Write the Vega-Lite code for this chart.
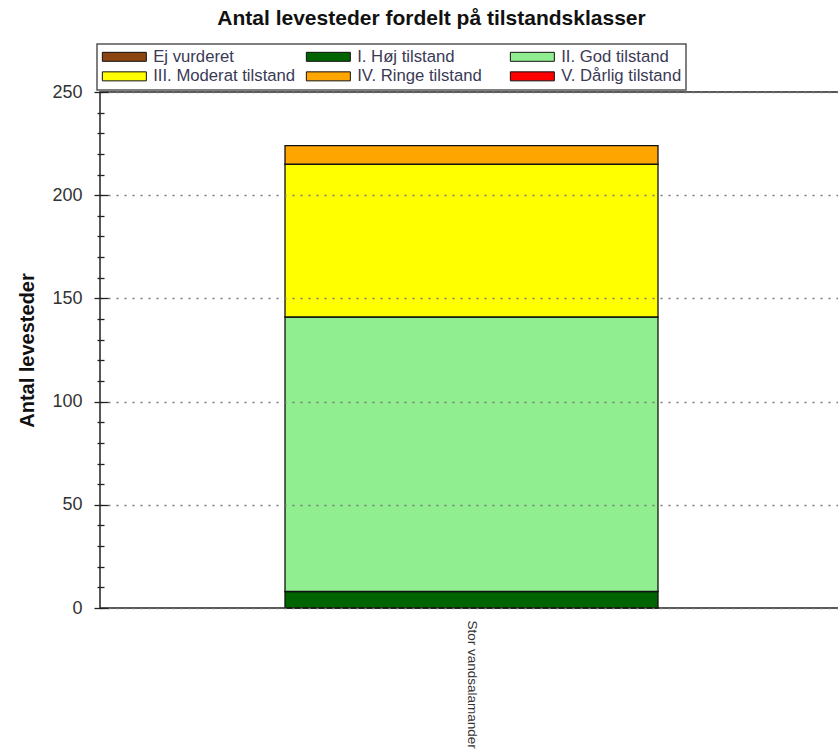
{
  "$schema": "https://vega.github.io/schema/vega-lite/v6.json",
  "width": 743,
  "height": 516,
  "autosize": "none",
  "padding": {"left": 100, "top": 92, "right": 0, "bottom": 147},
  "background": "white",
  "config": {
    "font": "Liberation Sans",
    "view": {"stroke": "#222222", "strokeWidth": 1.5},
    "legend": {"strokeColor": "#555555", "strokeWidth": 1.5, "fillColor": "white", "padding": 4}
  },
  "title": {
    "text": "Antal levesteder fordelt på tilstandsklasser",
    "font": "Liberation Sans",
    "fontSize": 21,
    "fontWeight": "bold",
    "color": "#111111",
    "anchor": "middle",
    "frame": "group",
    "dx": -40,
    "offset": 14
  },
  "data": {
    "values": [
      {"art": "Stor vandsalamander", "klasse": "I. Høj tilstand", "nr": 1, "antal": 8},
      {"art": "Stor vandsalamander", "klasse": "II. God tilstand", "nr": 2, "antal": 133},
      {"art": "Stor vandsalamander", "klasse": "III. Moderat tilstand", "nr": 3, "antal": 74},
      {"art": "Stor vandsalamander", "klasse": "IV. Ringe tilstand", "nr": 4, "antal": 9}
    ]
  },
  "layer": [
    {
      "mark": {"type": "bar", "stroke": "#111111", "strokeWidth": 1.3},
      "encoding": {
        "x": {
          "field": "art",
          "type": "nominal",
          "scale": {"paddingInner": 0, "paddingOuter": 0.496},
          "axis": {
            "title": null,
            "domain": false,
            "ticks": false,
            "labelAngle": 90,
            "labelFontSize": 13.5,
            "labelColor": "#333333",
            "labelPadding": 12
          }
        },
        "y": {
          "field": "antal",
          "type": "quantitative",
          "stack": "zero",
          "scale": {"domain": [0, 250], "nice": false},
          "axis": {
            "orient": "left",
            "zindex": 1,
            "title": "Antal levesteder",
            "titleFontSize": 20,
            "titleFontWeight": "bold",
            "titleColor": "#111111",
            "titlePadding": 14,
            "values": [0, 50, 100, 150, 200, 250],
            "offset": -8,
            "domain": false,
            "ticks": true,
            "tickSize": 14,
            "tickColor": "#222222",
            "tickWidth": 1.3,
            "tickOpacity": 1,
            "labelFontSize": 18,
            "labelColor": "#333333",
            "labelPadding": 12,
            "grid": true,
            "gridDash": [2, 6],
            "gridColor": "#777777",
            "gridWidth": 1.3
          }
        },
        "order": {"field": "nr", "type": "quantitative"},
        "color": {
          "field": "klasse",
          "type": "nominal",
          "scale": {
            "domain": ["Ej vurderet", "I. Høj tilstand", "II. God tilstand", "III. Moderat tilstand", "IV. Ringe tilstand", "V. Dårlig tilstand"],
            "range": ["#8B4513", "#006400", "#90EE90", "#FFFF00", "#FFA500", "#FF0000"]
          },
          "legend": {
            "title": null,
            "orient": "none",
            "legendX": -3,
            "legendY": -48,
            "direction": "horizontal",
            "columns": 3,
            "gridAlign": "all",
            "columnPadding": 8,
            "rowPadding": 2,
            "symbolType": "M-1.4,-0.9H7.4V0.9H-1.4Z",
            "symbolSize": 100,
            "symbolStrokeColor": "#111111",
            "symbolStrokeWidth": 1,
            "symbolOpacity": 1,
            "labelFontSize": 16.7,
            "labelColor": "#3a3a55",
            "labelOffset": 35.5,
            "labelLimit": 300
          }
        }
      }
    },
    {
      "mark": {"type": "rule", "opacity": 0},
      "encoding": {
        "y": {
          "field": "antal",
          "type": "quantitative",
          "scale": {"domain": [0, 250], "nice": false},
          "axis": {
            "orient": "left",
            "zindex": 1,
            "title": null,
            "values": [10, 20, 30, 40, 60, 70, 80, 90, 110, 120, 130, 140, 160, 170, 180, 190, 210, 220, 230, 240],
            "offset": -4,
            "domain": false,
            "labels": false,
            "ticks": true,
            "tickSize": 7,
            "tickColor": "#222222",
            "tickWidth": 1.3,
            "grid": false
          }
        }
      }
    }
  ],
  "resolve": {"scale": {"y": "independent"}}
}
